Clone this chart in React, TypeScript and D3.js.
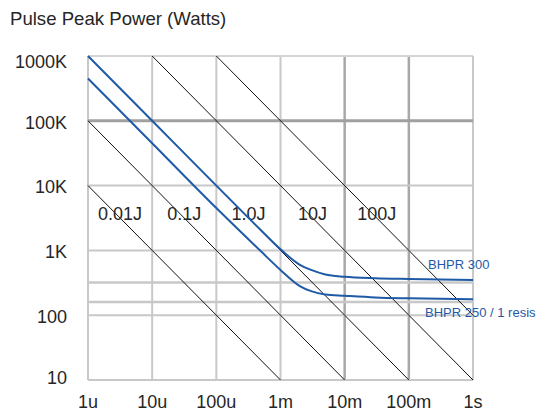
import * as d3 from "d3";
import { useEffect, useRef } from "react";

const W = 538;
const H = 412;

// axes
const timeTicks = [1e-6, 1e-5, 1e-4, 1e-3, 1e-2, 1e-1, 1];
const timeLabels = ["1u", "10u", "100u", "1m", "10m", "100m", "1s"];
const powerTicks = [10, 100, 1e3, 1e4, 1e5, 1e6];
const powerLabels = ["10", "100", "1K", "10K", "100K", "1000K"];
const extraPowerGrid = [320, 160];

// constant-energy lines
const energies = [0.01, 0.1, 1, 10, 100];
const energyLabels = ["0.01J", "0.1J", "1.0J", "10J", "100J"];

// device curves
const curveTimes = [1e-6, 1e-5, 1e-4, 5e-4, 1e-3, 2e-3, 3e-3, 5e-3, 1e-2, 3e-2, 1e-1, 1];
const bhpr300 = [1e6, 1e5, 1e4, 2030, 1040, 600, 500, 425, 392, 372, 362, 350];
const bhpr250 = [450000, 45000, 4500, 960, 500, 282, 235, 209, 200, 188, 182, 176];
const seriesNames = ["BHPR 300", "BHPR 250 / 1 resis"];

export default function App() {
  const ref = useRef<SVGSVGElement>(null);

  useEffect(() => {
    if (!ref.current) return;
    const svg = d3.select(ref.current);
    svg.selectAll("*").remove();

    const font = "'Liberation Sans', Arial, sans-serif";
    const ink = "#262626";
    const x = d3.scaleLog().domain([1e-6, 1]).range([88, 473]);
    const y = d3.scaleLog().domain([10, 1e6]).range([380, 56]);

    // grid
    const grid = svg.append("g");
    timeTicks.forEach((t, i) => {
      const dark = i === 4 || i === 5;
      grid.append("line")
        .attr("x1", x(t)).attr("x2", x(t))
        .attr("y1", y(1e6)).attr("y2", y(10))
        .attr("stroke", dark ? "#a8a8a8" : "#c8c8c8")
        .attr("stroke-width", dark ? 2.5 : 2);
    });
    powerTicks.forEach((p, i) => {
      const dark = i === 4;
      grid.append("line")
        .attr("x1", x(1e-6)).attr("x2", x(1))
        .attr("y1", y(p)).attr("y2", y(p))
        .attr("stroke", dark ? "#a0a0a0" : i === 5 ? "#d4d4d4" : "#c8c8c8")
        .attr("stroke-width", dark ? 3 : 2);
    });
    extraPowerGrid.forEach((p) => {
      grid.append("line")
        .attr("x1", x(1e-6)).attr("x2", x(1))
        .attr("y1", y(p)).attr("y2", y(p))
        .attr("stroke", "#c8c8c8")
        .attr("stroke-width", 2.5);
    });

    // energy lines P = E / t, clipped to the plot box
    energies.forEach((e) => {
      const t0 = Math.max(1e-6, e / 1e6);
      const t1 = Math.min(1, e / 10);
      svg.append("line")
        .attr("x1", x(t0)).attr("y1", y(e / t0))
        .attr("x2", x(t1)).attr("y2", y(e / t1))
        .attr("stroke", "#111")
        .attr("stroke-width", 1);
    });

    // energy labels, centred in each decade between 1K and 10K
    energyLabels.forEach((lab, i) => {
      const tx = Math.sqrt(timeTicks[i] * timeTicks[i + 1]);
      svg.append("text")
        .attr("x", x(tx))
        .attr("y", y(1e3) - 30)
        .attr("text-anchor", "middle")
        .attr("font-family", font)
        .attr("font-size", 18)
        .attr("fill", ink)
        .text(lab);
    });

    // device curves
    const blue = "#1f5aa6";
    const line = d3.line<number>()
      .x((_, i) => x(curveTimes[i]))
      .y((d) => y(d))
      .curve(d3.curveMonotoneX);
    [bhpr300, bhpr250].forEach((s) => {
      svg.append("path")
        .datum(s)
        .attr("fill", "none")
        .attr("stroke", blue)
        .attr("stroke-width", 2)
        .attr("d", line);
    });

    svg.append("text")
      .attr("x", x(1) - 45)
      .attr("y", y(bhpr300[bhpr300.length - 1]) - 11)
      .attr("font-family", font)
      .attr("font-size", 13)
      .attr("fill", blue)
      .text(seriesNames[0]);
    svg.append("text")
      .attr("x", x(1) - 48)
      .attr("y", y(bhpr250[bhpr250.length - 1]) + 18)
      .attr("font-family", font)
      .attr("font-size", 13)
      .attr("fill", blue)
      .text(seriesNames[1]);

    // axis labels
    powerTicks.forEach((p, i) => {
      const yy = Math.min(378, Math.max(62, y(p) + 1.5));
      svg.append("text")
        .attr("x", 67)
        .attr("y", yy)
        .attr("dy", "0.35em")
        .attr("text-anchor", "end")
        .attr("font-family", font)
        .attr("font-size", 18)
        .attr("fill", ink)
        .text(powerLabels[i]);
    });
    timeTicks.forEach((t, i) => {
      svg.append("text")
        .attr("x", x(t))
        .attr("y", 408)
        .attr("text-anchor", "middle")
        .attr("font-family", font)
        .attr("font-size", 18)
        .attr("fill", ink)
        .text(timeLabels[i]);
    });

    svg.append("text")
      .attr("x", 10)
      .attr("y", 25)
      .attr("font-family", font)
      .attr("font-size", 18.6)
      .attr("fill", ink)
      .text("Pulse Peak Power (Watts)");
  }, []);

  return (
    <svg
      ref={ref}
      width={W}
      height={H}
      style={{ position: "absolute", left: 0, top: 0, background: "#fff" }}
    />
  );
}
